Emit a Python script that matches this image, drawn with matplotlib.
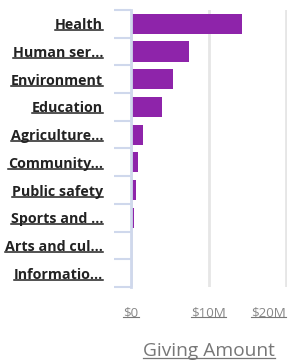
import matplotlib
matplotlib.use("Agg")
import matplotlib.pyplot as plt
from matplotlib.lines import Line2D

plt.rcParams['font.family'] = ['Open Sans', 'DejaVu Sans']

causes = ['Health', 'Human ser...', 'Environment', 'Education', 'Agriculture...',
          'Community...', 'Public safety', 'Sports and ...', 'Arts and cul...',
          'Informatio...']
giving = [14.3, 7.45, 5.4, 4.0, 1.55, 0.9, 0.64, 0.38, 0.12, 0.0]  # $M
xticks = [0, 10, 20]
xticklabels = ['$0', '$10M', '$20M']

fig = plt.figure(figsize=(2.88, 3.62), dpi=100)
ax = fig.add_axes([131 / 288, 1 - 287 / 362, 156 / 288, 277 / 362])

pos = list(range(len(causes)))
ax.barh(pos, giving, height=0.73, color='#8E24AA', zorder=3)
ax.set_ylim(len(causes) - 0.5, -0.5)
ax.set_xlim(0, 20.1)

for s in ['top', 'right', 'bottom']:
    ax.spines[s].set_visible(False)
ax.spines['left'].set_color('#cfd8ec')
ax.spines['left'].set_linewidth(2)
ax.spines['left'].set_zorder(4)

ax.set_xticks(xticks)
ax.set_xticklabels(xticklabels, fontsize=9.6, color='#888888')
ax.tick_params(axis='x', length=0, pad=14)
ax.xaxis.grid(True, color='#e6e6e6', linewidth=2)
ax.set_xlabel('Giving Amount', fontsize=13.8, color='#777777', labelpad=16)

ax.set_yticks(pos)
ax.set_yticklabels(causes, fontsize=10.3, fontweight='bold', color='#222222')
ax.tick_params(axis='y', which='major', length=0, pad=20)
ax.set_yticks([p - 0.5 for p in pos] + [len(causes) - 0.5], minor=True)
ax.tick_params(axis='y', which='minor', length=12.5, width=1.5, color='#cfd8ec')

labs = ax.get_xticklabels()
labs[-1].set_ha('right')
labs[-1].set_x(20.1)

fig.canvas.draw()
r = fig.canvas.get_renderer()

def underline(t, col, lw, off):
    bb = t.get_window_extent(r)
    y = bb.y0 + off
    fig.add_artist(Line2D([bb.x0 / 288, bb.x1 / 288], [y / 362, y / 362],
                          color=col, linewidth=lw))

for t in ax.get_yticklabels():
    underline(t, '#222222', 1.1, 2.0)
for t in ax.get_xticklabels():
    underline(t, '#777777', 0.8, 2.0)
underline(ax.xaxis.label, '#777777', 0.9, 2.0)

fig.savefig('out.png', dpi=100)
